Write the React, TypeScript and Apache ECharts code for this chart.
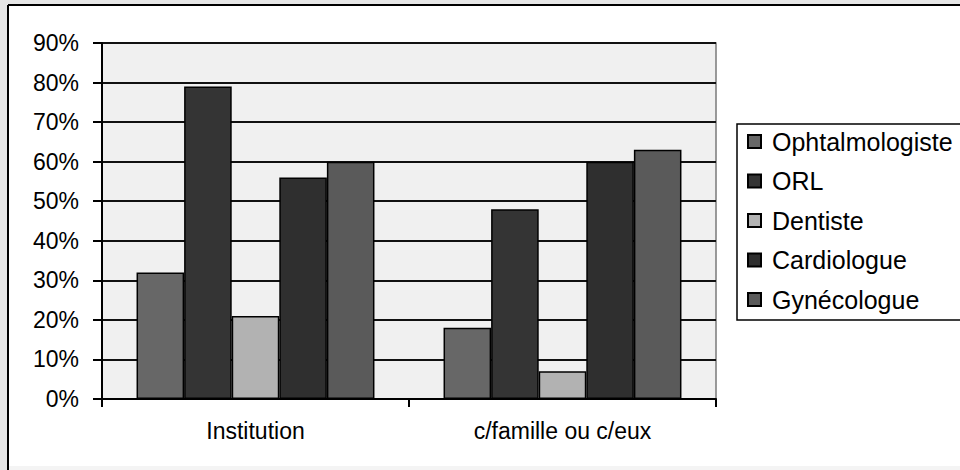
import React, { useEffect, useRef } from "react";
import * as echarts from "echarts";

const categories = ["Institution", "c/famille ou c/eux"];
const seriesNames = ["Ophtalmologiste", "ORL", "Dentiste", "Cardiologue", "Gynécologue"];
const ophtalmologiste = [32, 18];
const orl = [79, 48];
const dentiste = [21, 7];
const cardiologue = [56, 60];
const gynecologue = [60, 63];
const seriesColors = ["#676767", "#343434", "#b2b2b2", "#2f2f2f", "#5a5a5a"];

const FONT = "'Liberation Sans', Arial, sans-serif";

export default function App() {
  const ref = useRef<HTMLDivElement>(null);
  useEffect(() => {
    if (!ref.current) return;
    const chart = echarts.init(ref.current, undefined, { renderer: "svg" });
    const values = [ophtalmologiste, orl, dentiste, cardiologue, gynecologue];
    chart.setOption({
      animation: false,
      backgroundColor: "#e6e6e6",
      textStyle: { fontFamily: FONT },
      graphic: [
        {
          type: "rect",
          z: -10,
          shape: { x: 8, y: 5, width: 960, height: 461 },
          style: { fill: "#ffffff" },
        },
        {
          type: "rect",
          z: -10,
          shape: { x: 8, y: 466, width: 960, height: 10 },
          style: { fill: "#f4f4f4" },
        },
        { type: "line", z: -9, shape: { x1: 8, y1: 5, x2: 960, y2: 5 }, style: { stroke: "#000", lineWidth: 2 } },
        { type: "line", z: -9, shape: { x1: 8, y1: 5, x2: 8, y2: 470 }, style: { stroke: "#000", lineWidth: 2 } },
      ],
      grid: {
        left: 102,
        top: 43,
        width: 614,
        height: 356,
        show: true,
        backgroundColor: "#f0f0f0",
        borderColor: "#7a7a7a",
        borderWidth: 1.5,
      },
      legend: {
        orient: "vertical",
        left: 737,
        top: 124,
        padding: [5, 40, 8, 10],
        itemWidth: 13,
        itemHeight: 13,
        itemGap: 14.5,
        icon: "rect",
        borderColor: "#000",
        borderWidth: 1.5,
        backgroundColor: "#ffffff",
        data: seriesNames,
        textStyle: { fontSize: 25, lineHeight: 25, color: "#000", fontFamily: FONT, padding: [0, 0, 0, 6] },
      },
      xAxis: {
        type: "category",
        data: categories,
        axisLine: { show: true, lineStyle: { color: "#000", width: 2 } },
        axisTick: { show: true, length: 8, lineStyle: { color: "#000", width: 2 } },
        axisLabel: { fontSize: 23, color: "#000", margin: 20, fontFamily: FONT },
        splitLine: { show: false },
      },
      yAxis: {
        type: "value",
        min: 0,
        max: 90,
        interval: 10,
        axisLine: { show: true, lineStyle: { color: "#000", width: 2 } },
        axisTick: { show: true, length: 9, lineStyle: { color: "#000", width: 2 } },
        axisLabel: { fontSize: 23, color: "#000", margin: 23, formatter: "{value}%", fontFamily: FONT },
        splitLine: { show: true, lineStyle: { color: "#111", width: 2 } },
      },
      series: seriesNames.map((name, i) => ({
        name,
        type: "bar",
        data: values[i],
        barGap: "0%",
        barCategoryGap: "22.5%",
        itemStyle: { color: seriesColors[i], borderColor: "#000", borderWidth: 1.5 },
      })),
    });
    return () => chart.dispose();
  }, []);
  return (
    <div
      ref={ref}
      style={{ position: "fixed", left: 0, top: 0, width: 960, height: 470 }}
    />
  );
}
